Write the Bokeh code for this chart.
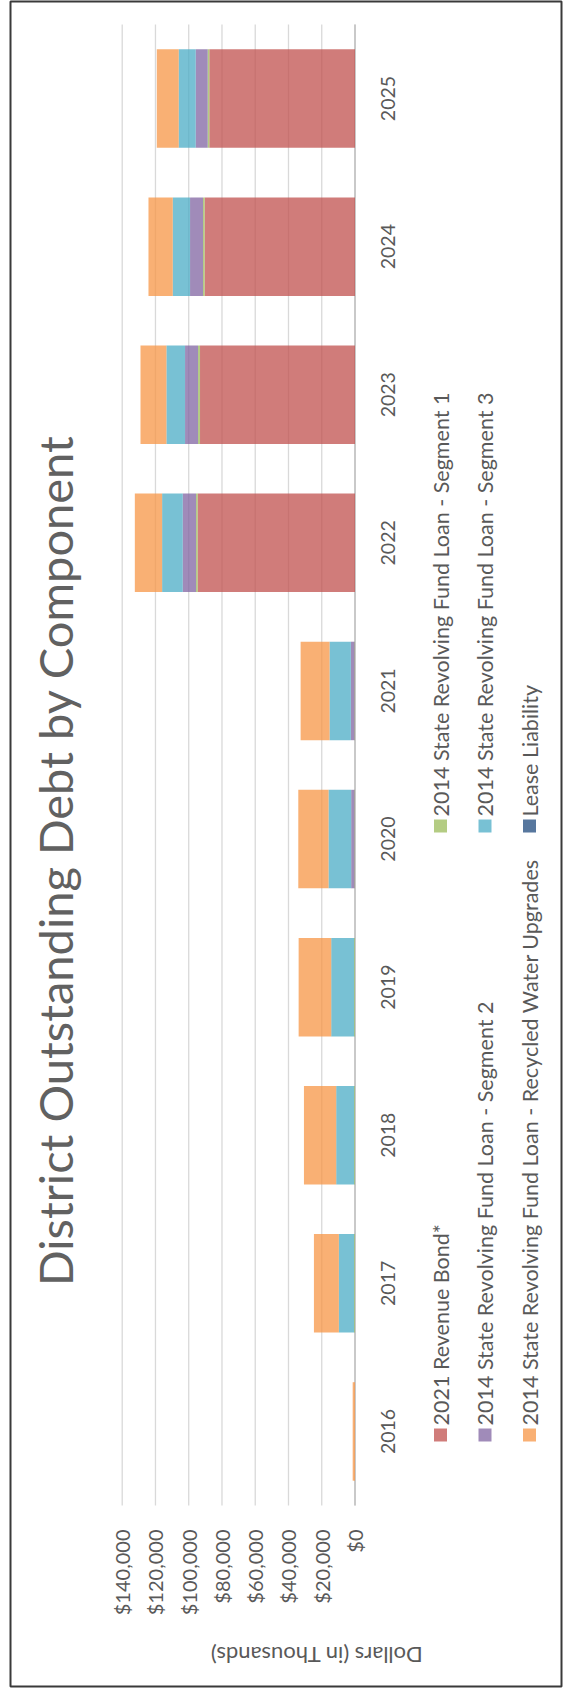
from math import pi

from bokeh.core.properties import value
from bokeh.embed import file_html
from bokeh.models import BoxAnnotation, ColumnDataSource, Label, Range1d
from bokeh.plotting import figure
from bokeh.resources import INLINE

# Outstanding debt by component, dollars (in thousands)
years = [2016, 2017, 2018, 2019, 2020, 2021, 2022, 2023, 2024, 2025]
revenue_bond_2021 = [0, 0, 0, 0, 0, 0, 94600, 93200, 90400, 87600]
srf_segment_1 = [0, 500, 500, 500, 300, 300, 1000, 1200, 1000, 1000]
srf_segment_2 = [0, 0, 0, 0, 2000, 2200, 8000, 7800, 7800, 7200]
srf_segment_3 = [0, 9200, 10800, 13800, 13600, 12800, 12400, 11200, 10400, 10200]
srf_recycled_water = [1400, 15000, 19400, 19600, 18200, 17400, 16400, 15600, 14600, 13200]
lease_liability = [0, 0, 0, 0, 0, 0, 0, 0, 0, 0]

series_names = [
    "2021 Revenue Bond*",
    "2014 State Revolving Fund Loan - Segment 1",
    "2014 State Revolving Fund Loan - Segment 2",
    "2014 State Revolving Fund Loan - Segment 3",
    "2014 State Revolving Fund Loan - Recycled Water Upgrades",
    "Lease Liability",
]
series_colors = ["#C0504D", "#9BBB59", "#8064A2", "#4BACC6", "#F79646", "#1F497D"]
value_ticks = [0, 20000, 40000, 60000, 80000, 100000, 120000, 140000]

TITLE = "District Outstanding Debt by Component"
VALUE_AXIS_TITLE = "Dollars (in Thousands)"

# The chart is laid out turned a quarter turn: values grow leftwards,
# years run from the bottom up, and all text reads upwards.
W, H = 564, 1690
FRAME_L, FRAME_R, FRAME_T, FRAME_B = 10, 561, 1, 1686   # chart border
PX_ZERO, PX_MAX = 354.5, 121.7                          # $0 and $140,000 columns
PY_TOP, PY_BOT = 24, 1505                               # plot-area top / bottom rows
X_MAX = 140000
Y_LO, Y_HI = 2015.5, 2025.5
FONT = "Lato"
TEXT_COLOR = "#595959"
ALPHA = 0.75


def to_x(px):
    """Canvas pixel column -> value coordinate."""
    return (PX_ZERO - px) * X_MAX / (PX_ZERO - PX_MAX)


def to_y(py):
    """Canvas pixel row -> year coordinate."""
    return Y_HI - (py - PY_TOP) * (Y_HI - Y_LO) / (PY_BOT - PY_TOP)


p = figure(
    width=W, height=H,
    x_range=Range1d(to_x(FRAME_L), to_x(FRAME_R)),
    y_range=Range1d(to_y(FRAME_B), to_y(FRAME_T)),
    x_axis_location=None, y_axis_location=None,
    output_backend="svg", toolbar_location=None,
    min_border_left=FRAME_L, min_border_right=W - FRAME_R,
    min_border_top=FRAME_T, min_border_bottom=H - FRAME_B,
)
p.grid.visible = False
p.background_fill_color = "white"
p.border_fill_color = "white"
p.outline_line_color = "#3a3a3a"
p.outline_line_width = 2

# value gridlines across the plot area, and the category axis line at $0
grid_src = ColumnDataSource(dict(v=value_ticks))
p.segment(x0="v", x1="v", y0=Y_LO, y1=Y_HI, source=grid_src,
          line_color="#d9d9d9", line_width=1.3)
p.segment(x0=[0], x1=[0], y0=[Y_LO], y1=[Y_HI], line_color="#bfbfbf", line_width=1.5)

# stacked bars
keys = ["rb", "s1", "s2", "s3", "rw", "ll"]
source = ColumnDataSource(dict(
    year=years, rb=revenue_bond_2021, s1=srf_segment_1, s2=srf_segment_2,
    s3=srf_segment_3, rw=srf_recycled_water, ll=lease_liability,
))
p.hbar_stack(keys, y="year", height=0.665, fill_color=series_colors,
             fill_alpha=ALPHA, line_color=None, source=source)

# value tick labels under the plot area
tick_src = ColumnDataSource(dict(v=value_ticks, t=[f"${v:,.0f}" for v in value_ticks]))
p.text(x="v", y=to_y(1529), text="t", source=tick_src, angle=pi / 2,
       text_align="right", text_baseline="middle",
       text_font=value(FONT), text_font_size="20px", text_color=TEXT_COLOR)

# year labels beside the $0 line
year_src = ColumnDataSource(dict(y=years, t=[str(y) for y in years]))
p.text(x=to_x(387), y="y", text="t", source=year_src, angle=pi / 2,
       text_align="center", text_baseline="middle",
       text_font=value(FONT), text_font_size="19.5px", text_color=TEXT_COLOR)

# chart title
p.add_layout(Label(x=to_x(54), y=to_y(860), text=TITLE, angle=pi / 2,
                   text_align="center", text_baseline="middle",
                   text_font=FONT, text_font_size="47px", text_color="#616161"))

# value axis title
p.add_layout(Label(x=to_x(316), y=to_y(1655), text=VALUE_AXIS_TITLE, angle=pi,
                   text_align="center", text_baseline="middle",
                   text_font=FONT, text_font_size="22px", text_color=TEXT_COLOR))

# legend: three columns, two entries each
col_x = [440, 484.5, 529]
row_sq_top = [1428, 819]
SQ = 13
for i, (name, color) in enumerate(zip(series_names, series_colors)):
    cx = col_x[i // 2]
    top = row_sq_top[i % 2]
    p.add_layout(BoxAnnotation(left=to_x(cx - SQ / 2), right=to_x(cx + SQ / 2),
                               top=to_y(top), bottom=to_y(top + SQ),
                               fill_color=color, fill_alpha=ALPHA, line_color=None))
    p.add_layout(Label(x=to_x(cx), y=to_y(top - 3), text=name, angle=pi / 2,
                       text_align="left", text_baseline="middle",
                       text_font=FONT, text_font_size="21.5px", text_color=TEXT_COLOR))

open("out.html", "w").write(file_html(p, INLINE))
